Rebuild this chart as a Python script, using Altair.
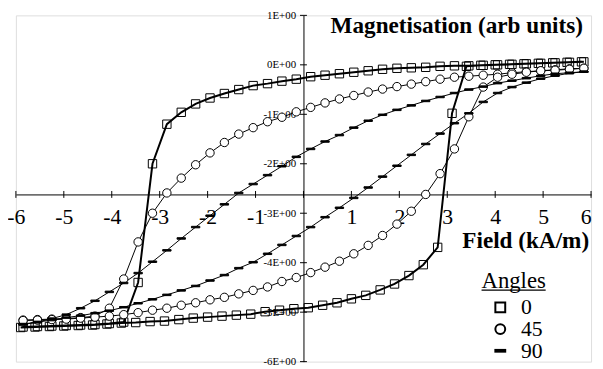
import altair as alt
import pandas as pd

SERIF = "Liberation Serif"

ANGLES = ["0", "45", "90"]

# Field values (kA/m) of the descending (upper) branch, and the ascending (lower) branches
FIELD_DOWN = [5.85, 5.55, 5.25, 4.95, 4.65, 4.35, 4.05, 3.75, 3.45, 3.15,
              2.85, 2.55, 2.25, 1.95, 1.65, 1.35, 1.05, 0.75, 0.45, 0.15,
              -0.15, -0.45, -0.75, -1.05, -1.35, -1.65, -1.95, -2.25, -2.55, -2.85,
              -3.15, -3.45, -3.75, -4.05, -4.35, -4.65, -4.95, -5.25, -5.55, -5.85]
FIELD_UP_0 = [-5.9, -5.6, -5.3, -5.0, -4.7, -4.4, -4.1, -3.8, -3.5, -3.2,
              -2.9, -2.6, -2.3, -2.0, -1.7, -1.4, -1.1, -0.8, -0.5, -0.2,
              0.1, 0.4, 0.7, 1.0, 1.3, 1.6, 1.9, 2.2, 2.5, 2.8,
              3.1, 3.4, 3.7, 4.0, 4.3, 4.6, 4.9, 5.2, 5.5, 5.8]
FIELD_UP = [-5.85, -5.55, -5.25, -4.95, -4.65, -4.35, -4.05, -3.75, -3.45, -3.15,
            -2.85, -2.55, -2.25, -1.95, -1.65, -1.35, -1.05, -0.75, -0.45, -0.15,
            0.15, 0.45, 0.75, 1.05, 1.35, 1.65, 1.95, 2.25, 2.55, 2.85,
            3.15, 3.45, 3.75, 4.05, 4.35, 4.65, 4.95, 5.25, 5.55, 5.85]

# Magnetisation (arb units)
M0_DOWN = [0.06, 0.05, 0.04, 0.03, 0.02, 0.01, 0.00, -0.01, -0.02, -0.02,
           -0.03, -0.05, -0.06, -0.07, -0.09, -0.12, -0.15, -0.18, -0.21, -0.24,
           -0.29, -0.33, -0.38, -0.42, -0.50, -0.58, -0.67, -0.79, -0.96, -1.20,
           -2.00, -4.40, -5.20, -5.23, -5.25, -5.26, -5.27, -5.28, -5.29, -5.30]
M0_UP = [-5.31, -5.30, -5.29, -5.28, -5.27, -5.26, -5.24, -5.22, -5.21, -5.19,
         -5.18, -5.15, -5.12, -5.10, -5.08, -5.06, -5.04, -4.99, -4.96, -4.93,
         -4.91, -4.86, -4.81, -4.73, -4.66, -4.55, -4.43, -4.26, -4.04, -3.69,
         -0.98, -0.03, -0.01, 0.00, 0.01, 0.02, 0.03, 0.04, 0.05, 0.06]
M45_DOWN = [-0.07, -0.08, -0.10, -0.12, -0.14, -0.16, -0.19, -0.21, -0.23, -0.25,
            -0.29, -0.34, -0.39, -0.44, -0.49, -0.55, -0.62, -0.69, -0.77, -0.86,
            -0.95, -1.06, -1.15, -1.27, -1.40, -1.57, -1.78, -2.02, -2.29, -2.59,
            -3.00, -3.58, -4.33, -4.92, -5.08, -5.11, -5.13, -5.14, -5.15, -5.16]
M45_UP = [-5.17, -5.16, -5.15, -5.14, -5.12, -5.10, -5.08, -5.05, -5.01, -4.96,
          -4.92, -4.86, -4.81, -4.75, -4.70, -4.63, -4.56, -4.49, -4.38, -4.30,
          -4.20, -4.09, -3.97, -3.82, -3.65, -3.45, -3.22, -2.96, -2.62, -2.20,
          -1.70, -1.05, -0.45, -0.25, -0.19, -0.15, -0.12, -0.11, -0.09, -0.07]
M90_DOWN = [-0.14, -0.16, -0.18, -0.22, -0.27, -0.32, -0.37, -0.44, -0.50, -0.57,
            -0.65, -0.73, -0.82, -0.91, -1.01, -1.13, -1.27, -1.42, -1.55, -1.70,
            -1.86, -2.05, -2.23, -2.41, -2.59, -2.82, -3.05, -3.28, -3.51, -3.75,
            -3.98, -4.21, -4.41, -4.59, -4.77, -4.92, -5.05, -5.13, -5.20, -5.25]
M90_UP = [-5.24, -5.20, -5.16, -5.11, -5.07, -5.02, -4.97, -4.90, -4.82, -4.74,
          -4.65, -4.56, -4.47, -4.36, -4.25, -4.11, -3.99, -3.82, -3.64, -3.46,
          -3.28, -3.08, -2.89, -2.69, -2.48, -2.26, -2.04, -1.82, -1.60, -1.39,
          -1.18, -0.98, -0.75, -0.57, -0.45, -0.36, -0.28, -0.22, -0.17, -0.14]

X_TICKS = [-6, -5, -4, -3, -2, -1, 0, 1, 2, 3, 4, 5, 6]
Y_TICKS = [1, 0, -1, -2, -3, -4, -5, -6]
X_DOMAIN = [-6, 6]
Y_DOMAIN = [-6, 1]
X_AXIS_CROSS = -2.62   # value of M where the field axis crosses

SHAPES = ["square", "circle", "M-1,-0.18H1V0.18H-1Z"]
FILLS = ["transparent", "white", "black"]

rows = []
for ang, fd, md, fu, mu in [("0", FIELD_DOWN, M0_DOWN, FIELD_UP_0, M0_UP),
                            ("45", FIELD_DOWN, M45_DOWN, FIELD_UP, M45_UP),
                            ("90", FIELD_DOWN, M90_DOWN, FIELD_UP, M90_UP)]:
    i = 0
    for f, m in list(zip(fd, md)) + list(zip(fu, mu)):
        rows.append({"angle": ang, "field": f, "m": m, "idx": i})
        i += 1
df = pd.DataFrame(rows)

W, H = 583, 351
x_off = -H * (X_AXIS_CROSS - Y_DOMAIN[0]) / (Y_DOMAIN[1] - Y_DOMAIN[0])
y_off = -W * (0 - X_DOMAIN[0]) / (X_DOMAIN[1] - X_DOMAIN[0])

xs = alt.Scale(domain=X_DOMAIN, nice=False, zero=False)
ys = alt.Scale(domain=Y_DOMAIN, nice=False, zero=False)

xaxis = alt.Axis(values=X_TICKS, offset=x_off, ticks=False, grid=False,
                 domainColor="black", domainWidth=1,
                 labelFont=SERIF, labelFontSize=22, labelColor="black",
                 labelPadding=29, labelBaseline="alphabetic", labelFlush=False,
                 labelOverlap=False,
                 labelAlign={"condition": {"test": "datum.value == 6", "value": "right"},
                             "value": "center"},
                 labelExpr="datum.value == 0 ? '' : toString(datum.value)",
                 title="Field (kA/m)", titleFont=SERIF, titleFontSize=23.5,
                 titleFontWeight="bold", titleColor="black", titleAlign="left",
                 titleBaseline="alphabetic", titleX=452, titleY=54)
yaxis = alt.Axis(values=Y_TICKS, offset=y_off, ticks=False, grid=False,
                 domainColor="black", domainWidth=1,
                 labelFont=SERIF, labelFontSize=11, labelColor="black",
                 labelPadding=8, labelBaseline="middle", labelFlush=False,
                 labelOverlap=False,
                 labelExpr="toString(datum.value) + 'E+00'",
                 title="Magnetisation (arb units)", titleFont=SERIF, titleFontSize=23.5,
                 titleFontWeight="bold", titleColor="black", titleAngle=0,
                 titleAlign="left", titleBaseline="alphabetic",
                 titleX=27, titleY=17)

X = alt.X("field:Q", scale=xs, axis=xaxis)
Y = alt.Y("m:Q", scale=ys, axis=yaxis)

legend = dict(title="Angles", orient="none", legendX=472, legendY=258,
              titleFont=SERIF, titleFontSize=23, titleFontWeight="normal",
              titleColor="black", titleBaseline="top", titlePadding=4,
              labelFont=SERIF, labelFontSize=22, labelColor="black",
              symbolSize=100, symbolStrokeWidth=2,
              symbolOffset=8, labelOffset=10, rowPadding=-3,
              padding=0)

base = alt.Chart(df)
line0 = base.transform_filter(alt.datum.angle == "0").mark_line(
    color="black", strokeWidth=2).encode(x=X, y=Y, order="idx:Q")
line_rest = base.transform_filter(alt.datum.angle != "0").mark_line(
    color="black", strokeWidth=1).encode(x=X, y=Y, detail="angle:N", order="idx:Q")
points = base.mark_point(filled=False, color="black", stroke="black", strokeWidth=1,
                         opacity=1, size=72).encode(
    x=X, y=Y,
    shape=alt.Shape("angle:N", scale=alt.Scale(domain=ANGLES, range=SHAPES),
                    legend=alt.Legend(**legend)),
    fill=alt.Fill("angle:N", scale=alt.Scale(domain=ANGLES, range=FILLS),
                  legend=alt.Legend(**legend)))

xt = pd.DataFrame({"field": X_TICKS, "m": [X_AXIS_CROSS] * len(X_TICKS)})
yt = pd.DataFrame({"field": [0] * len(Y_TICKS), "m": Y_TICKS})
xticks = alt.Chart(xt).mark_point(shape="M0,-1V1", size=49, stroke="black",
                                  strokeWidth=1, opacity=1, filled=False).encode(x=X, y=Y)
yticks = alt.Chart(yt).mark_point(shape="M-1,0H1", size=49, stroke="black",
                                  strokeWidth=1, opacity=1, filled=False).encode(x=X, y=Y)

underline = alt.Chart(pd.DataFrame({"a": [0]})).mark_rule(color="black", strokeWidth=1.5).encode(
    x=alt.value(472), x2=alt.value(537), y=alt.value(278.5))

chart = alt.layer(line0, line_rest, points, xticks, yticks, underline).properties(
    width=W, height=H, autosize="none",
    padding={"left": 8, "top": 5, "right": 4, "bottom": 5},
).configure_view(stroke=None).configure(font=SERIF)

chart.save("out.html", embed_options={"renderer": "svg", "actions": False})
